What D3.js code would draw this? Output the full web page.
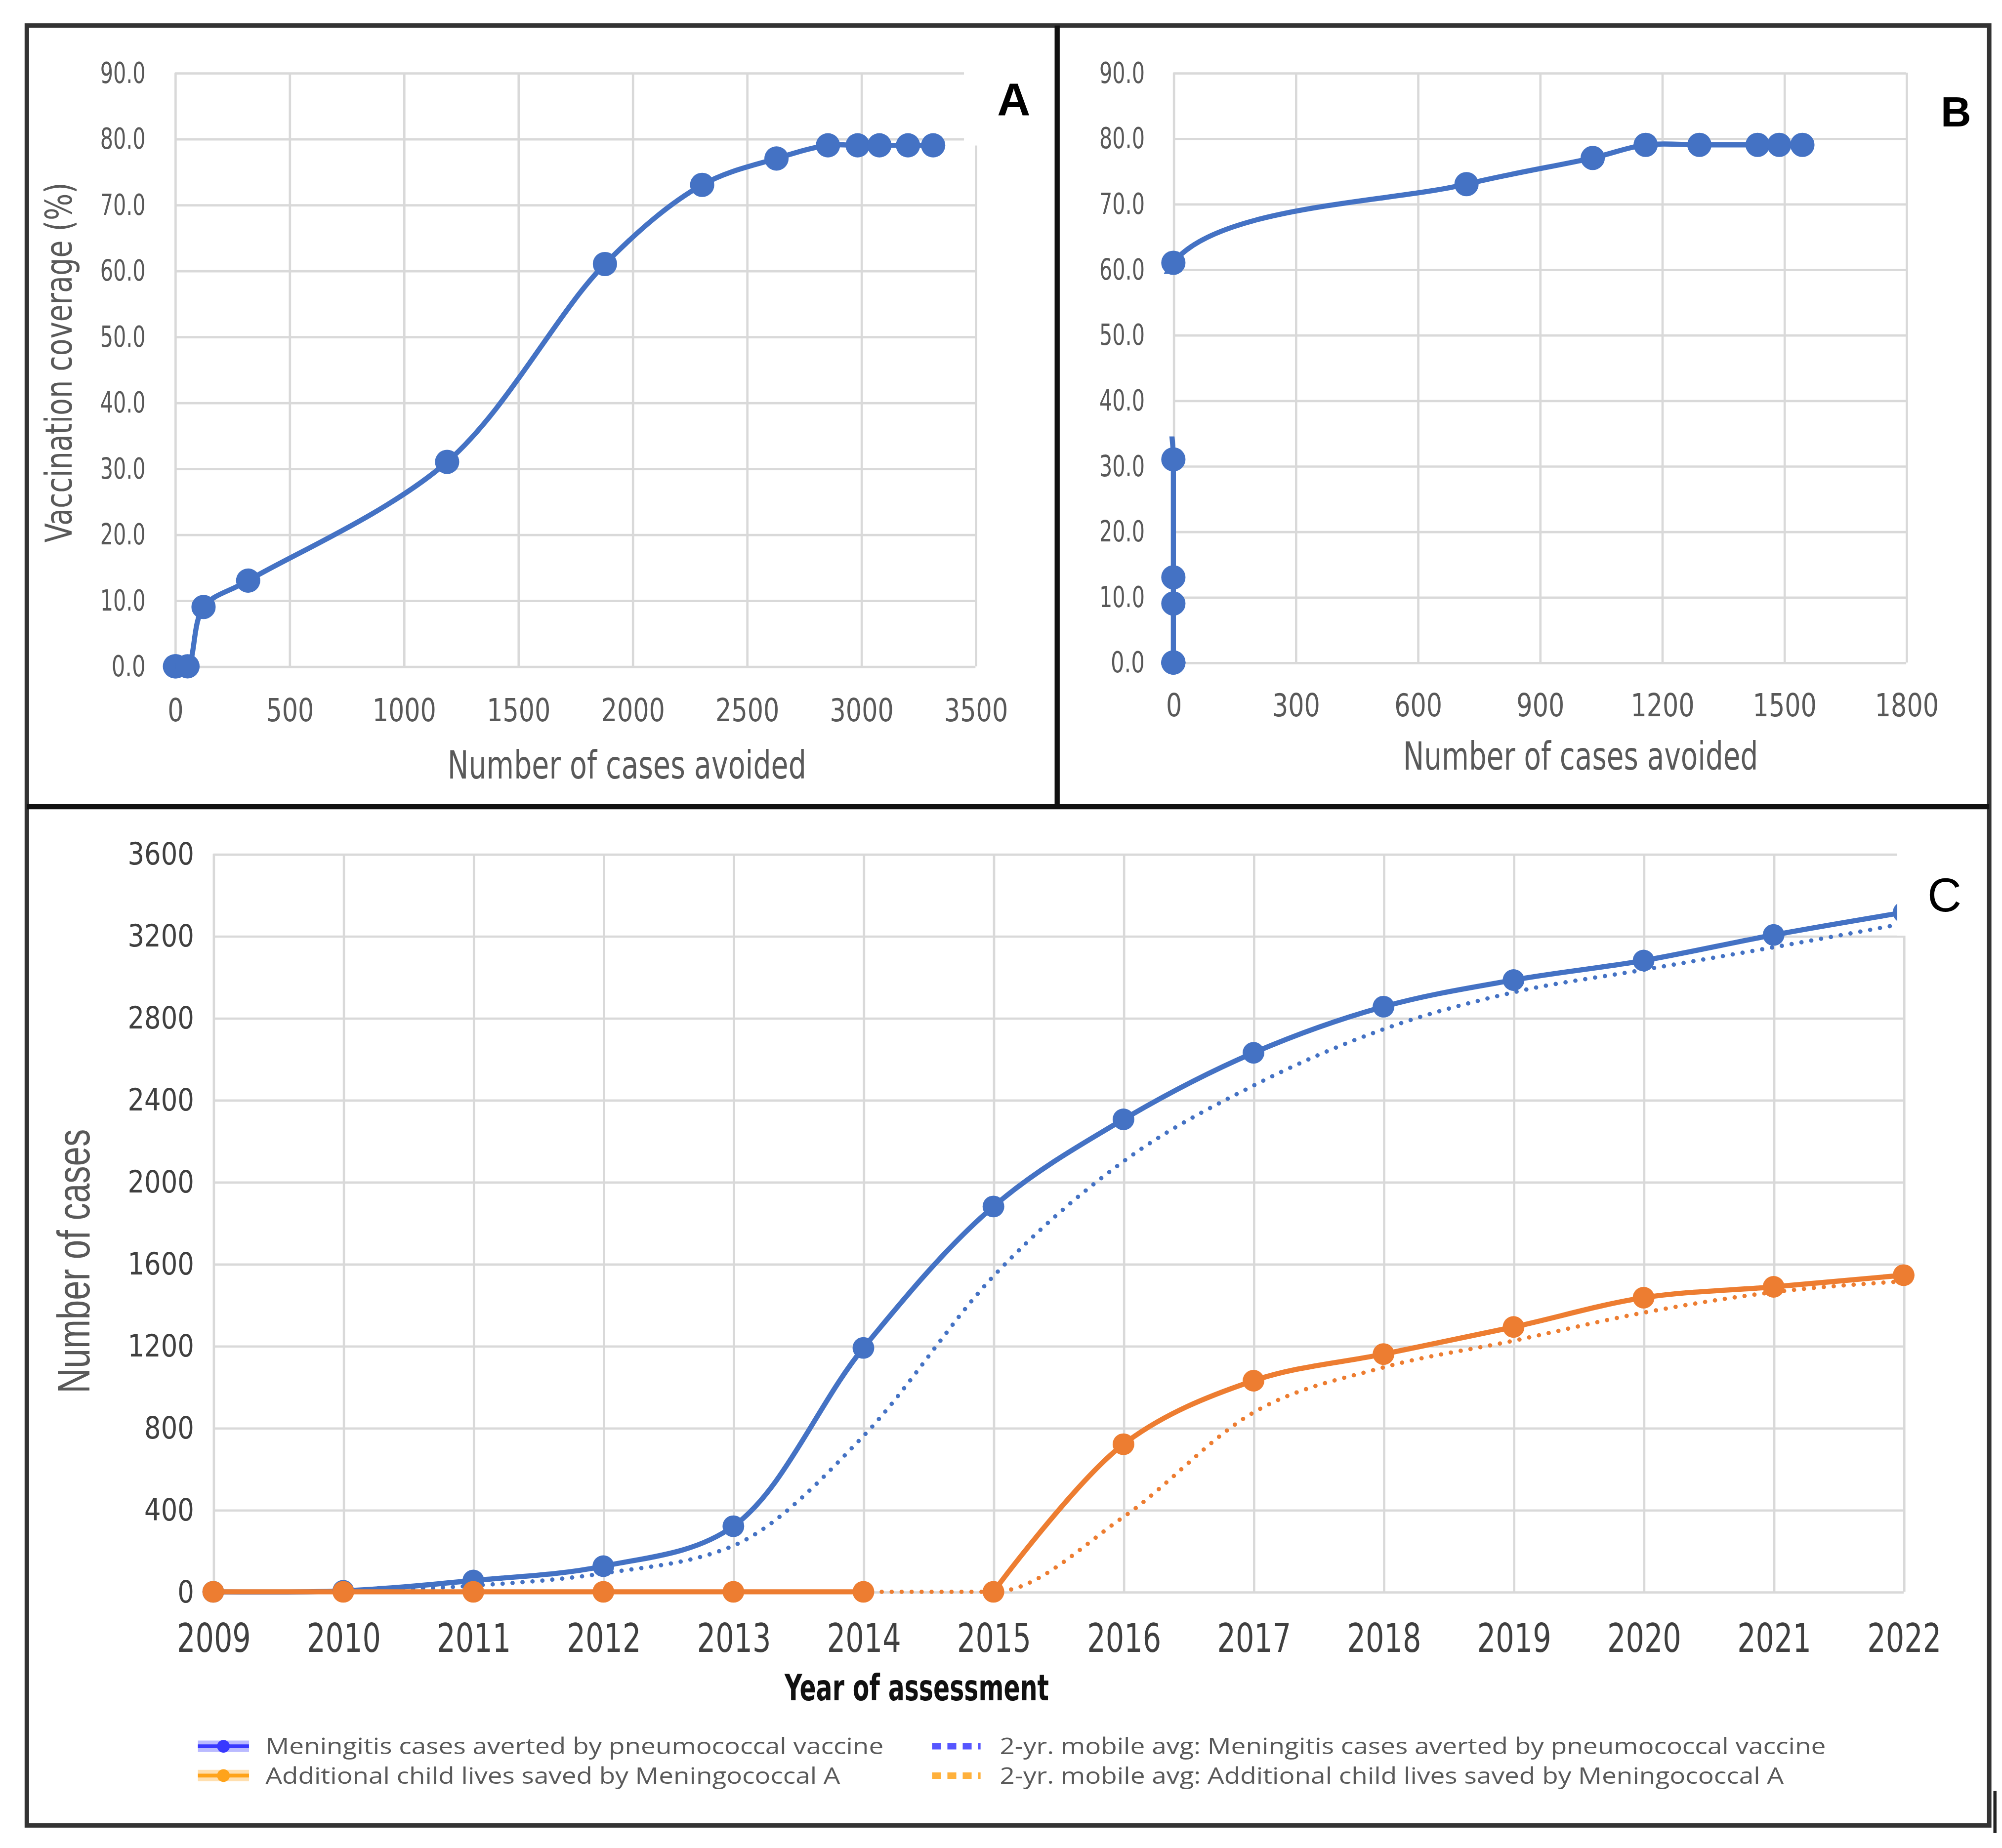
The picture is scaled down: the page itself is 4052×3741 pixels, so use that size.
<!DOCTYPE html>
<html>
<head>
<meta charset="utf-8">
<script src="https://cdn.jsdelivr.net/npm/d3@7"></script>
<style>
  body { margin: 0; background: #fff; }
  svg { display: block; }
</style>
</head>
<body>
<div id="fig"></div>
<script>

// ---- data ----
var years = [2009, 2010, 2011, 2012, 2013, 2014, 2015, 2016, 2017, 2018, 2019, 2020, 2021, 2022];
var pneumoCases = [0, 5, 55, 125, 320, 1190, 1880, 2305, 2630, 2855, 2985, 3080, 3205, 3315];
var pneumoAvg   = [null, 3, 30, 90, 225, 760, 1540, 2100, 2470, 2745, 2925, 3035, 3145, 3260];
var menACases   = [0, 0, 0, 0, 0, 0, 0, 720, 1030, 1160, 1292, 1435, 1488, 1545];
var menAAvg     = [null, 0, 0, 0, 0, 0, 0, 365, 875, 1095, 1225, 1362, 1462, 1515];
var coverage    = [0, 0, 0, 9, 13, 31, 61, 73, 77, 79, 79, 79, 79, 79];
var menABreakAfter = 2014;   // solid orange line is broken between 2014 and 2015

var xTicksA = d3.range(0, 3501, 500);
var xTicksB = d3.range(0, 1801, 300);
var yTicksAB = d3.range(0, 91, 10);
var yTicksC = d3.range(0, 3601, 400);

var legendLabels = [
  "Meningitis cases averted by pneumococcal vaccine",
  "2-yr. mobile avg: Meningitis cases averted by pneumococcal vaccine",
  "Additional child lives saved by Meningococcal A",
  "2-yr. mobile avg: Additional child lives saved by Meningococcal A"
];

var blue = "#4472C4", orange = "#ED7D31";
var grid = "#d9d9d9", tickCol = "#595959";
var narrow = "'Liberation Sans Narrow','DejaVu Sans Condensed','Liberation Sans',Arial,sans-serif";
var sans = "'Liberation Sans',Arial,sans-serif";

var svg = d3.select("#fig").append("svg")
  .attr("width", 4052)
  .attr("height", 3741)
  .attr("viewBox", "0 0 1568 1447.7");

svg.append("rect").attr("width", 1568).attr("height", 1448).attr("fill", "#fff");

function fit(sel, perChar) {
  sel.attr("textLength", function () { return this.textContent.length * perChar; })
     .attr("lengthAdjust", "spacingAndGlyphs");
}

var fmt1 = d3.format(".1f");

// ---------- scatter panels A and B ----------
function scatterPanel(o) {
  var g = svg.append("g");
  var x = d3.scaleLinear().domain([0, o.xTicks[o.xTicks.length - 1]]).range(o.xr);
  var y = d3.scaleLinear().domain([0, 90]).range(o.yr);

  var ya = g.append("g").attr("transform", "translate(" + o.xr[0] + ",0)")
    .call(d3.axisLeft(y).tickValues(yTicksAB).tickFormat(fmt1)
      .tickSize(-(o.xr[1] - o.xr[0])).tickPadding(o.yPad));
  var xa = g.append("g").attr("transform", "translate(0," + o.yr[0] + ")")
    .call(d3.axisBottom(x).tickValues(o.xTicks).tickFormat(d3.format("d"))
      .tickSize(-(o.yr[0] - o.yr[1])));
  [ya, xa].forEach(function (a) {
    a.select(".domain").remove();
    a.selectAll(".tick line").attr("stroke", grid).attr("stroke-width", 1.8);
  });
  ya.selectAll("text").attr("fill", tickCol).style("font-family", narrow).style("font-size", "23px").call(fit, 8.9);
  xa.selectAll("text").attr("fill", tickCol).style("font-family", narrow).style("font-size", "25px")
    .attr("y", o.xLabOff).attr("dy", null).call(fit, 12.5);

  var pts = years.map(function (yr, i) { return [o.xs[i], coverage[i]]; });
  var line = d3.line().x(function (d) { return x(d[0]); }).y(function (d) { return y(d[1]); })
    .curve(d3.curveCatmullRom.alpha(0.5));

  var path = g.append("path").datum(pts)
    .attr("d", line).attr("fill", "none")
    .attr("stroke", blue).attr("stroke-width", 4).attr("stroke-linejoin", "round");

  if (o.maskGap) {
    var m = svg.append("defs").append("mask").attr("id", o.maskGap.id)
      .attr("maskUnits", "userSpaceOnUse");
    m.append("rect").attr("x", 0).attr("y", 0).attr("width", 1568).attr("height", 1448).attr("fill", "#fff");
    m.append("rect").attr("x", x(0) - 90).attr("width", 180)
      .attr("y", y(o.maskGap.to)).attr("height", y(o.maskGap.from) - y(o.maskGap.to)).attr("fill", "#000");
    path.attr("mask", "url(#" + o.maskGap.id + ")");
  }

  g.selectAll("circle.pt").data(pts).enter().append("circle")
    .attr("class", "pt")
    .attr("cx", function (d) { return x(d[0]); })
    .attr("cy", function (d) { return y(d[1]); })
    .attr("r", 9.5).attr("fill", blue);

  g.append("text").attr("x", o.xTitle[0]).attr("y", o.xTitle[1])
    .attr("text-anchor", "middle").attr("fill", tickCol)
    .style("font-family", narrow).style("font-size", "30px")
    .attr("textLength", o.xTitle[2]).attr("lengthAdjust", "spacingAndGlyphs")
    .text("Number of cases avoided");
  return { g: g, x: x, y: y };
}

var pA = scatterPanel({
  xs: pneumoCases, xTicks: xTicksA, xr: [137, 764], yr: [522, 57],
  yPad: 23, xLabOff: 43, xTitle: [491, 610, 281]
});
// white box of the "A" label covering the plot corner
pA.g.append("rect").attr("x", 755).attr("y", 24).attr("width", 70).attr("height", 90).attr("fill", "#fff");
pA.g.append("text").attr("x", 794).attr("y", 90).attr("text-anchor", "middle")
  .style("font-family", sans).style("font-weight", "bold").style("font-size", "36px").text("A");
pA.g.append("text").attr("transform", "translate(56,284) rotate(-90)")
  .attr("text-anchor", "middle").attr("fill", tickCol)
  .style("font-family", narrow).style("font-size", "29px")
  .attr("textLength", 282).attr("lengthAdjust", "spacingAndGlyphs")
  .text("Vaccination coverage (%)");

var pB = scatterPanel({
  xs: menACases, xTicks: xTicksB, xr: [919, 1493], yr: [519, 57],
  yPad: 22.4, xLabOff: 42, xTitle: [1238, 603, 278],
  maskGap: { id: "gapB", from: 34.5, to: 59.3 }
});
pB.g.append("text").attr("x", 1532).attr("y", 99).attr("text-anchor", "middle")
  .style("font-family", sans).style("font-weight", "bold").style("font-size", "33px").text("B");

// ---------- panel C ----------
var gC = svg.append("g");
var xC = d3.scaleLinear().domain([2009, 2022]).range([167, 1491]);
var yC = d3.scaleLinear().domain([0, 3600]).range([1247, 669]);

var yaC = gC.append("g").attr("transform", "translate(167,0)")
  .call(d3.axisLeft(yC).tickValues(yTicksC).tickFormat(d3.format("d")).tickSize(-(1491 - 167)).tickPadding(15));
var xaC = gC.append("g").attr("transform", "translate(0,1247)")
  .call(d3.axisBottom(xC).tickValues(years).tickFormat(d3.format("d")).tickSize(-(1247 - 669)));
[yaC, xaC].forEach(function (a) {
  a.select(".domain").remove();
  a.selectAll(".tick line").attr("stroke", grid).attr("stroke-width", 1.8);
});
yaC.selectAll("text").attr("fill", "#404040").style("font-family", narrow).style("font-size", "24px").call(fit, 13);
xaC.selectAll("text").attr("fill", "#404040").style("font-family", narrow).style("font-size", "31px")
  .attr("y", 47).attr("dy", null).call(fit, 14.5);

function series(vals) {
  return years.map(function (yr, i) { return { year: yr, v: vals[i] }; })
    .filter(function (d) { return d.v != null; });
}
var lineC = d3.line().x(function (d) { return xC(d.year); }).y(function (d) { return yC(d.v); });
var solidCurve = d3.curveCatmullRom.alpha(0.5);

function dotted(vals, col) {
  gC.append("path").datum(series(vals))
    .attr("d", lineC.curve(d3.curveMonotoneX)).attr("fill", "none")
    .attr("stroke", col).attr("stroke-width", 3.4)
    .attr("stroke-linecap", "round").attr("stroke-dasharray", "0.01,7.8");
}
function solid(data, col) {
  gC.append("path").datum(data)
    .attr("d", lineC.curve(solidCurve)).attr("fill", "none")
    .attr("stroke", col).attr("stroke-width", 4).attr("stroke-linejoin", "round");
}
function markers(data, col) {
  gC.append("g").selectAll("circle").data(data).enter().append("circle")
    .attr("cx", function (d) { return xC(d.year); })
    .attr("cy", function (d) { return yC(d.v); })
    .attr("r", 8.5).attr("fill", col);
}

dotted(pneumoAvg, blue);
dotted(menAAvg, orange);

var pneumo = series(pneumoCases);
var menA = series(menACases);
solid(pneumo, blue);
solid(menA.filter(function (d) { return d.year <= menABreakAfter; }), orange);
solid(menA.filter(function (d) { return d.year > menABreakAfter; }), orange);
markers(pneumo, blue);
markers(menA, orange);

// label box of "C" hides the right top corner of the plot
gC.append("rect").attr("x", 1486).attr("y", 636).attr("width", 68).attr("height", 97).attr("fill", "#fff");
gC.append("text").attr("x", 1523).attr("y", 714).attr("text-anchor", "middle")
  .style("font-family", sans).style("font-size", "37px").text("C");

gC.append("text").attr("transform", "translate(70,988) rotate(-90)")
  .attr("text-anchor", "middle").attr("fill", tickCol)
  .style("font-family", sans).style("font-size", "36px")
  .attr("textLength", 207).attr("lengthAdjust", "spacingAndGlyphs")
  .text("Number of cases");
gC.append("text").attr("x", 718).attr("y", 1332).attr("text-anchor", "middle")
  .attr("fill", "#111").style("font-family", narrow).style("font-weight", "bold").style("font-size", "28px")
  .attr("textLength", 207).attr("lengthAdjust", "spacingAndGlyphs")
  .text("Year of assessment");

// legend
var legItems = [
  { label: legendLabels[0], col: "#3838ff", dash: false, x: 155, y: 1368, w: 484 },
  { label: legendLabels[1], col: "#3838ff", dash: true,  x: 730, y: 1368, w: 647 },
  { label: legendLabels[2], col: "#ffa31a", dash: false, x: 155, y: 1391, w: 450 },
  { label: legendLabels[3], col: "#ffa31a", dash: true,  x: 730, y: 1391, w: 614 }
];
var leg = gC.append("g").selectAll("g").data(legItems).enter().append("g")
  .attr("transform", function (d) { return "translate(" + d.x + "," + d.y + ")"; });
leg.filter(function (d) { return !d.dash; }).each(function (d) {
  var s = d3.select(this);
  s.append("line").attr("x1", 0).attr("x2", 40).attr("stroke", d.col).attr("stroke-opacity", 0.35).attr("stroke-width", 9);
  s.append("line").attr("x1", 0).attr("x2", 40).attr("stroke", d.col).attr("stroke-width", 3);
  s.append("circle").attr("cx", 20).attr("r", 5).attr("fill", d.col);
});
leg.filter(function (d) { return d.dash; }).append("line")
  .attr("x1", 0).attr("x2", 38).attr("stroke", function (d) { return d.col; })
  .attr("stroke-width", 5).attr("stroke-dasharray", "7,5").attr("stroke-opacity", 0.85);
leg.append("text")
  .attr("x", 53).attr("dy", "0.35em")
  .attr("fill", tickCol).style("font-family", "'Open Sans','Noto Sans',sans-serif").style("font-size", "18px")
  .attr("textLength", function (d) { return d.w; }).attr("lengthAdjust", "spacingAndGlyphs")
  .text(function (d) { return d.label; });

// ---------- frame ----------
var frame = svg.append("g").attr("fill", "none");
frame.append("rect").attr("x", 21).attr("y", 20).attr("width", 1537).attr("height", 1410)
  .attr("stroke", "#333").attr("stroke-width", 3.5);
frame.append("line").attr("x1", 828).attr("x2", 828).attr("y1", 20).attr("y2", 632)
  .attr("stroke", "#111").attr("stroke-width", 4);
frame.append("line").attr("x1", 21).attr("x2", 1558).attr("y1", 632).attr("y2", 632)
  .attr("stroke", "#111").attr("stroke-width", 4);
frame.append("line").attr("x1", 1562.5).attr("x2", 1562.5).attr("y1", 1403).attr("y2", 1436)
  .attr("stroke", "#222").attr("stroke-width", 2.5);

</script>
</body>
</html>
